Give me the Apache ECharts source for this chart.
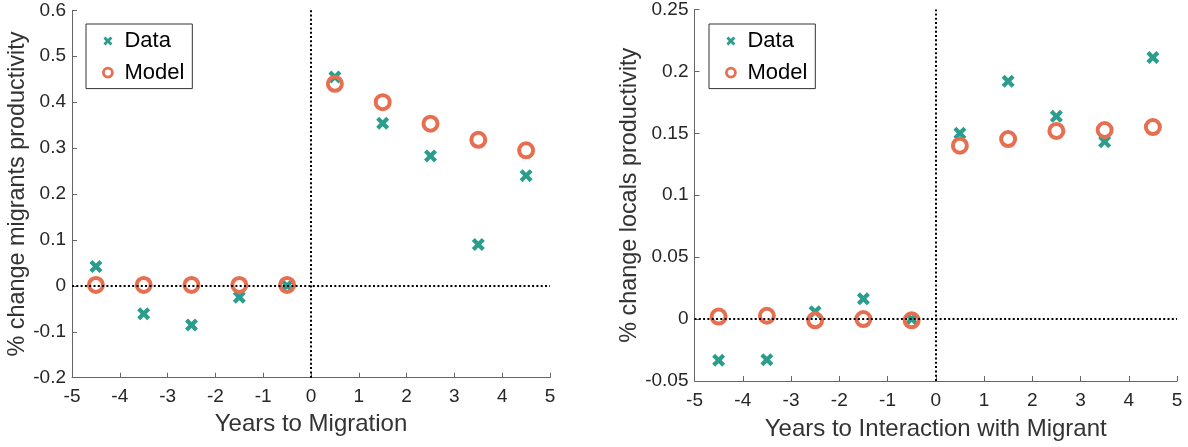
<!DOCTYPE html>
<html><head><meta charset="utf-8">
<script src="https://cdn.jsdelivr.net/npm/echarts@6/dist/echarts.min.js"></script>
<style>html,body{margin:0;padding:0;background:#fff}#c{width:1188px;height:447px}</style>
</head><body><div id="c"></div>
<script>
const years = [-4.5, -3.5, -2.5, -1.5, -0.5, 0.5, 1.5, 2.5, 3.5, 4.5];
const migrantsData  = [0.042, -0.061, -0.085, -0.025, 0.0, 0.455, 0.354, 0.283, 0.090, 0.240];
const migrantsModel = [0.002, 0.002, 0.002, 0.002, 0.002, 0.440, 0.400, 0.353, 0.318, 0.295];
const localsData    = [-0.0333, -0.0328, 0.006, 0.0164, 0.0, 0.150, 0.192, 0.1637, 0.1433, 0.2113];
const localsModel   = [0.002, 0.0027, -0.001, 0.0, -0.001, 0.140, 0.1454, 0.1519, 0.1527, 0.1551];
const xTicks = [-5, -4, -3, -2, -1, 0, 1, 2, 3, 4, 5];
const leftY = {min: -0.2, max: 0.6, interval: 0.1};
const rightY = {min: -0.05, max: 0.25, interval: 0.05};

const teal = '#2a9d8c', orange = '#e76f51';
const font = 'Liberation Sans, Arial, Helvetica, sans-serif';
const crossPath = 'path://M2.3,0 L5,2.7 L7.7,0 L10,2.3 L7.3,5 L10,7.7 L7.7,10 L5,7.3 L2.3,10 L0,7.7 L2.7,5 L0,2.3 Z';
const pair = (xs, ys) => xs.map((x, i) => [x, ys[i]]);
const axisColor = '#666';

function xAxis(idx, name, gap) {
  return {
    type: 'value', gridIndex: idx, min: xTicks[0], max: xTicks[xTicks.length - 1], interval: 1,
    name: name, nameLocation: 'middle', nameGap: gap,
    nameTextStyle: {fontSize: 24, color: '#333', fontFamily: font},
    axisLine: {onZero: false, lineStyle: {color: axisColor, width: 1}},
    axisTick: {inside: true, length: 5, lineStyle: {color: axisColor}},
    axisLabel: {fontSize: 19, color: '#262626', fontFamily: font, margin: 10},
    splitLine: {show: false}
  };
}
function yAxis(idx, name, gap, r) {
  return {
    type: 'value', gridIndex: idx, min: r.min, max: r.max, interval: r.interval,
    name: name, nameLocation: 'middle', nameGap: gap,
    nameTextStyle: {fontSize: 23.4, color: '#333', fontFamily: font},
    axisLine: {show: true, onZero: false, lineStyle: {color: axisColor, width: 1}},
    axisTick: {show: true, inside: true, length: 5, lineStyle: {color: axisColor}},
    axisLabel: {fontSize: 19, color: '#262626', fontFamily: font, margin: 6,
      formatter: v => String(Math.round(v * 1000) / 1000)},
    splitLine: {show: false}
  };
}
function dataSeries(idx, vals) {
  return {
    name: 'Data', type: 'scatter', xAxisIndex: idx, yAxisIndex: idx,
    data: pair(years, vals), symbol: crossPath, symbolSize: 13,
    itemStyle: {color: teal, opacity: 1}, z: 3,
    markLine: {
      silent: true, symbol: 'none', label: {show: false},
      lineStyle: {color: '#000', type: [2, 2.3], width: 2, opacity: 1},
      data: [{xAxis: 0}, {yAxis: 0}]
    }
  };
}
function modelSeries(idx, vals) {
  return {
    name: 'Model', type: 'scatter', xAxisIndex: idx, yAxisIndex: idx,
    data: pair(years, vals), symbol: 'circle', symbolSize: 14,
    itemStyle: {color: 'rgba(0,0,0,0)', borderColor: orange, borderWidth: 4, opacity: 1}, z: 4
  };
}
function legend(left) {
  return {
    left: left, top: 24, orient: 'vertical', itemWidth: 9, itemHeight: 9, itemGap: 9.6,
    borderColor: '#333', borderWidth: 1, padding: [6, 8, 5, 16],
    textStyle: {fontSize: 22, color: '#000', fontFamily: font, padding: [0, 0, 0, 7]},
    data: [
      {name: 'Data', icon: crossPath, itemStyle: {color: teal}},
      {name: 'Model', icon: 'circle', itemStyle: {color: '#fff', borderColor: orange, borderWidth: 2.8}}
    ],
    selectedMode: false
  };
}

const chart = echarts.init(document.getElementById('c'), null, {renderer: 'canvas'});
chart.setOption({
  animation: false,
  backgroundColor: '#fff',
  grid: [
    {left: 72, right: 638, top: 10.3, bottom: 69.3},
    {left: 694.5, right: 11, top: 9.3, bottom: 66}
  ],
  legend: [legend(86), legend(709)],
  xAxis: [xAxis(0, 'Years to Migration', 35), xAxis(1, 'Years to Interaction with Migrant', 36.5)],
  yAxis: [yAxis(0, '% change migrants productivity', 36, leftY), yAxis(1, '% change locals productivity', 47, rightY)],
  series: [
    dataSeries(0, migrantsData), modelSeries(0, migrantsModel),
    dataSeries(1, localsData), modelSeries(1, localsModel)
  ]
});
</script></body></html>
